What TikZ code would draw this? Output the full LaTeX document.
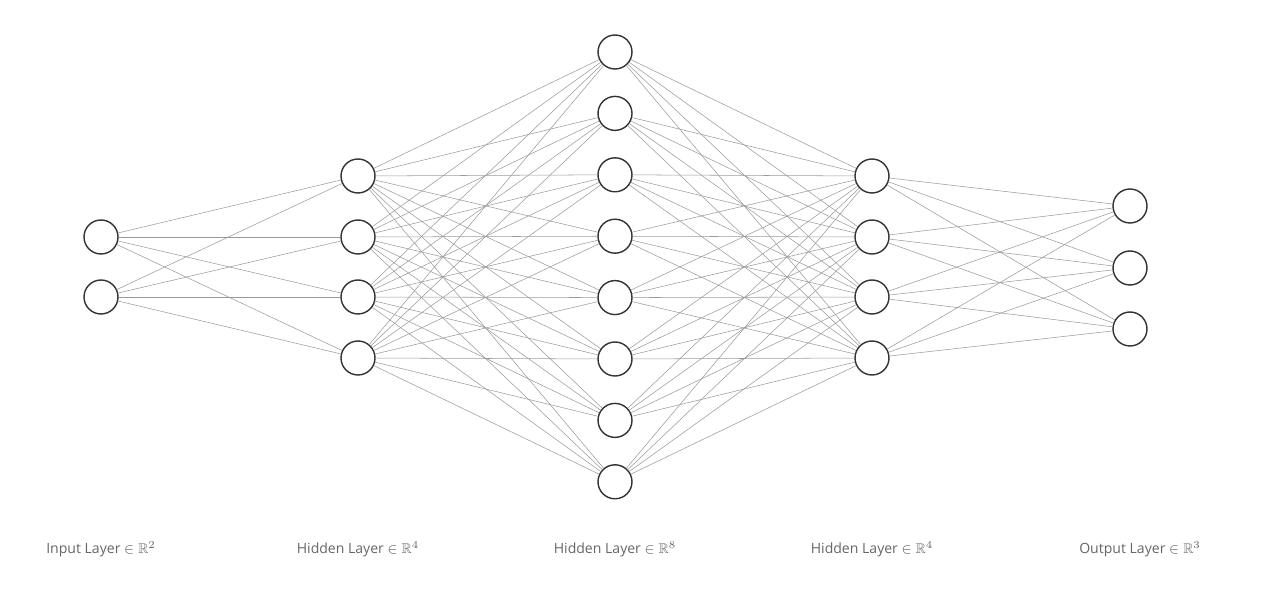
\documentclass[tikz,border=0pt]{standalone}
\usepackage{amsmath,amsfonts,amssymb}
\usepackage{fontspec}
\setmainfont{Open Sans}
\usepackage{tikz}
\usetikzlibrary{positioning}

\begin{document}
\begin{tikzpicture}[x=0.02cm, y=-0.02cm]
   \useasboundingbox (0,0) rectangle (1262,590);
   \tikzset{neuron/.style={circle,draw=black!80,fill=white,thick,minimum size=0.68cm,inner sep=0pt},
            link/.style={draw=black!40,line width=0.3pt},
            caption/.style={text=black!60,font=\fontsize{8}{10}\selectfont}}
% layers
\foreach \i/\y in {1/237,2/297}
       \node [neuron] (a\i) at (101,\y) {};
\foreach \i/\y in {1/176,2/237,3/297,4/358}
       \node [neuron] (b\i) at (358,\y) {};
\foreach \i in {1,...,8}
       \node [neuron] (c\i) at (615,{52+(\i-1)*61.4}) {};
\foreach \i/\y in {1/176,2/237,3/297,4/358}
       \node [neuron] (d\i) at (872,\y) {};
\foreach \i/\y in {1/206,2/268,3/329}
       \node [neuron] (e\i) at (1130,\y) {};

% links
\foreach \i in {1,2}
   \foreach \j in {1,...,4}
       \draw [link] (a\i) -- (b\j);
\foreach \i in {1,...,4}
   \foreach \j in {1,...,8}
       \draw [link] (b\i) -- (c\j);
\foreach \i in {1,...,8}
   \foreach \j in {1,...,4}
       \draw [link] (c\i) -- (d\j);
\foreach \i in {1,...,4}
   \foreach \j in {1,2,3}
       \draw [link] (d\i) -- (e\j);

% captions
\node [caption] (la) at (101,549) {Input Layer $\in \mathbb{R}^2$};
\node [caption] (lb) at (358,549) {Hidden Layer $\in \mathbb{R}^4$};
\node [caption] (lc) at (615,549) {Hidden Layer $\in \mathbb{R}^8$};
\node [caption] (ld) at (872,549) {Hidden Layer $\in \mathbb{R}^4$};
\node [caption] (le) at (1140,549) {Output Layer $\in \mathbb{R}^3$};
\end{tikzpicture}
\end{document}
